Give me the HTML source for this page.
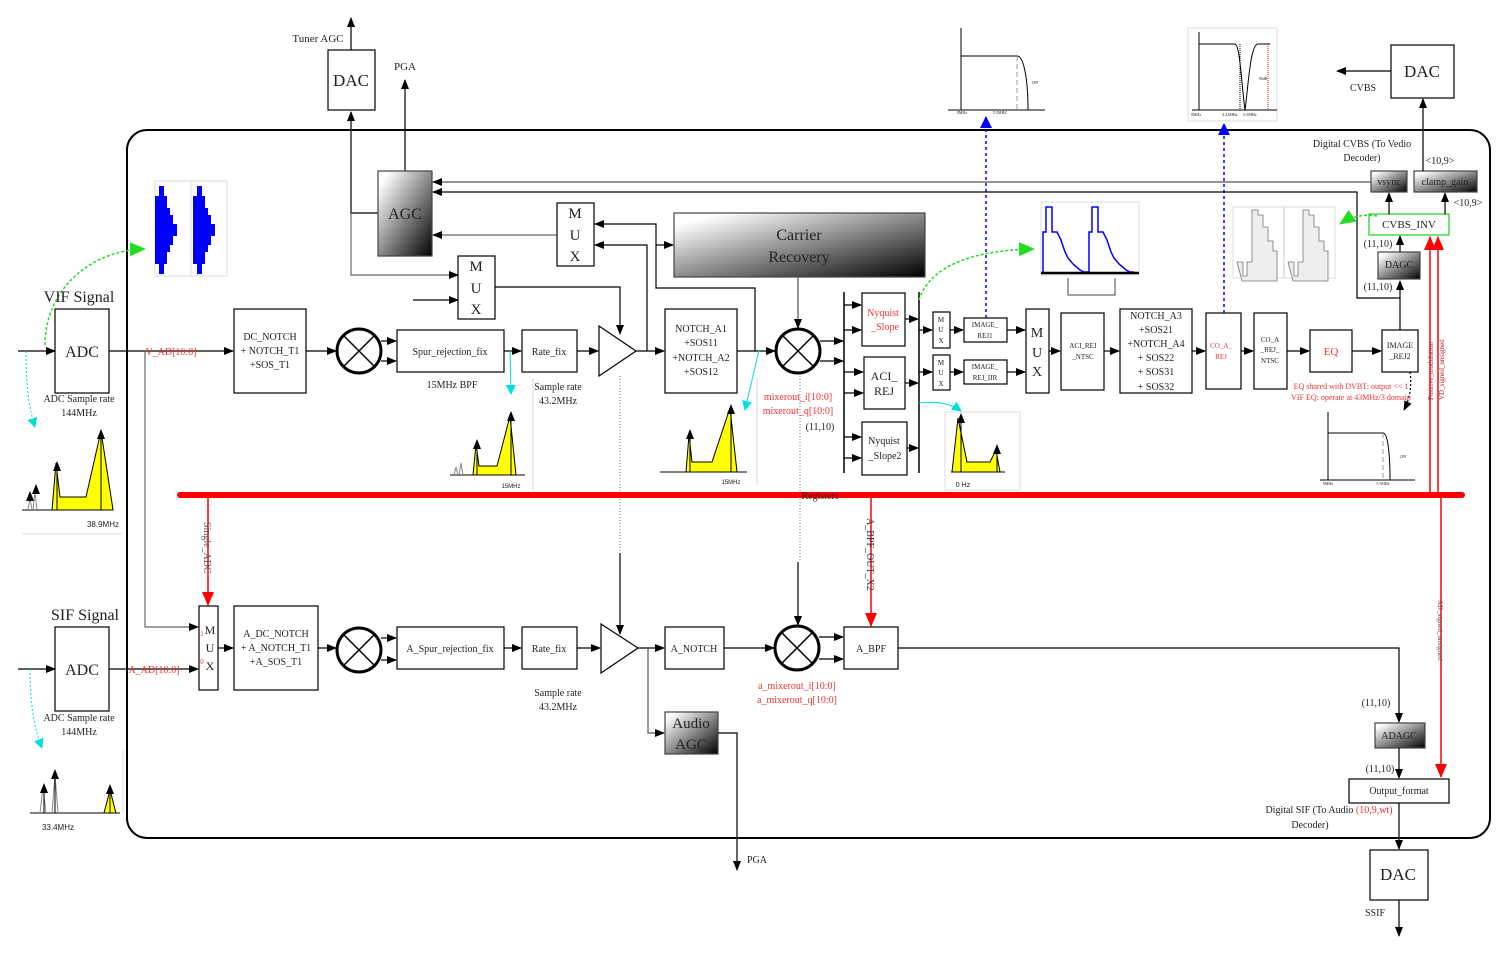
<!DOCTYPE html>
<html><head><meta charset="utf-8"><style>
html,body{margin:0;padding:0;background:#fff;}
svg{display:block;font-family:"Liberation Serif",serif;}
</style></head><body>
<svg width="1502" height="954" viewBox="0 0 1502 954" xmlns="http://www.w3.org/2000/svg">
<defs>
<marker id="a" markerWidth="10" markerHeight="8" refX="9" refY="4" orient="auto" markerUnits="userSpaceOnUse"><path d="M0,0 L10,4 L0,8 z" fill="#000"/></marker>
<marker id="ar" markerWidth="14" markerHeight="12" refX="13" refY="6" orient="auto" markerUnits="userSpaceOnUse"><path d="M0,0 L14,6 L0,12 z" fill="#f00"/></marker>
<marker id="ab" markerWidth="12" markerHeight="12" refX="11" refY="6" orient="auto" markerUnits="userSpaceOnUse"><path d="M0,0 L12,6 L0,12 z" fill="#00f"/></marker>
<marker id="ag" markerWidth="16" markerHeight="14" refX="15" refY="7" orient="auto" markerUnits="userSpaceOnUse"><path d="M0,0 L16,7 L0,14 z" fill="#2d2"/></marker>
<marker id="ac" markerWidth="10" markerHeight="10" refX="9" refY="5" orient="auto" markerUnits="userSpaceOnUse"><path d="M0,0 L10,5 L0,10 z" fill="#0dd"/></marker>
<linearGradient id="g" x1="0" y1="0" x2="1" y2="1"><stop offset="0.1" stop-color="#fff"/><stop offset="1" stop-color="#000"/></linearGradient>
</defs>
<g fill="none" stroke="#000" stroke-width="1.2">
<rect x="127" y="130" width="1363" height="708" rx="20" stroke-width="2"/>
<rect x="328" y="50" width="47" height="60"/>
<line x1="351" y1="50" x2="351" y2="18" marker-end="url(#a)"/>
<line x1="351" y1="213" x2="351" y2="112" marker-end="url(#a)"/>
<line x1="405" y1="171" x2="405" y2="80" marker-end="url(#a)"/>
<line x1="351" y1="213" x2="378" y2="213"/>
<polyline points="351,213 351,275 458,275" stroke="#666" marker-end="url(#a)"/>
<line x1="413" y1="300" x2="458" y2="300" marker-end="url(#a)"/>
<rect x="378" y="171" width="54" height="85" fill="url(#g)" stroke="#444"/>
<line x1="1371" y1="182" x2="433" y2="182" stroke="#555" marker-end="url(#a)"/>
<polyline points="1400,330 1400,298 1357,298 1357,192 433,192" marker-end="url(#a)"/>
<line x1="557" y1="235" x2="433" y2="235" stroke="#666" marker-end="url(#a)"/>
<rect x="557" y="203" width="37" height="63"/>
<rect x="458" y="256" width="37" height="63"/>
<polyline points="495,287 620,287 620,334" marker-end="url(#a)"/>
<polyline points="755,351 755,288 656,288 656,224 595,224" marker-end="url(#a)"/>
<polyline points="647,351 647,245 595,245" marker-end="url(#a)"/>
<line x1="656" y1="245" x2="673" y2="245" marker-end="url(#a)"/>
<rect x="674" y="213" width="251" height="64" fill="url(#g)" stroke="#444"/>
<line x1="798" y1="277" x2="798" y2="328" stroke="#555" marker-end="url(#a)"/>
<line x1="18" y1="351" x2="55" y2="351" marker-end="url(#a)"/>
<rect x="55" y="309" width="54" height="84"/>
<line x1="109" y1="351" x2="233" y2="351" marker-end="url(#a)"/>
<polyline points="145,351 145,627 198,627" stroke="#666" marker-end="url(#a)"/>
<rect x="234" y="309" width="72" height="84"/>
<line x1="306" y1="351" x2="336" y2="351" marker-end="url(#a)"/>
<circle cx="359" cy="351" r="22" stroke-width="3"/>
<path d="M344,336 L374,366 M374,336 L344,366" stroke-width="1.5"/>
<line x1="381" y1="341" x2="396" y2="341" marker-end="url(#a)"/>
<line x1="381" y1="361" x2="396" y2="361" marker-end="url(#a)"/>
<rect x="397" y="330" width="107" height="42"/>
<line x1="504" y1="351" x2="521" y2="351" marker-end="url(#a)"/>
<rect x="522" y="330" width="55" height="42"/>
<line x1="577" y1="351" x2="598" y2="351" marker-end="url(#a)"/>
<polygon points="599,326 636,351 599,376"/>
<line x1="636" y1="351" x2="664" y2="351" marker-end="url(#a)"/>
<rect x="665" y="309" width="72" height="84"/>
<line x1="737" y1="351" x2="775" y2="351" marker-end="url(#a)"/>
<circle cx="798" cy="351" r="22" stroke-width="3"/>
<path d="M783,336 L813,366 M813,336 L783,366" stroke-width="1.5"/>
<line x1="820" y1="341" x2="843" y2="341" marker-end="url(#a)"/>
<line x1="820" y1="361" x2="843" y2="361" marker-end="url(#a)"/>
<line x1="844" y1="292" x2="844" y2="473" stroke-width="1.5"/>
<line x1="919" y1="292" x2="919" y2="473" stroke-width="1.5"/>
<rect x="862" y="293" width="43" height="53"/>
<rect x="864" y="357" width="41" height="52"/>
<rect x="862" y="422" width="45" height="53"/>
<line x1="844" y1="305" x2="861" y2="305" marker-end="url(#a)"/>
<line x1="844" y1="330" x2="861" y2="330" marker-end="url(#a)"/>
<line x1="844" y1="372" x2="863" y2="372" marker-end="url(#a)"/>
<line x1="844" y1="393" x2="863" y2="393" marker-end="url(#a)"/>
<line x1="844" y1="437" x2="861" y2="437" marker-end="url(#a)"/>
<line x1="844" y1="458" x2="861" y2="458" marker-end="url(#a)"/>
<line x1="905" y1="319" x2="918" y2="319" marker-end="url(#a)"/>
<line x1="905" y1="383" x2="918" y2="383" marker-end="url(#a)"/>
<line x1="907" y1="448" x2="918" y2="448" marker-end="url(#a)"/>
<line x1="919" y1="330" x2="932" y2="330" marker-end="url(#a)"/>
<line x1="919" y1="372" x2="932" y2="372" marker-end="url(#a)"/>
<rect x="933" y="312" width="17" height="36"/>
<rect x="933" y="355" width="17" height="35"/>
<line x1="950" y1="330" x2="963" y2="330" marker-end="url(#a)"/>
<line x1="950" y1="372" x2="963" y2="372" marker-end="url(#a)"/>
<rect x="964" y="318" width="43" height="24"/>
<rect x="964" y="360" width="43" height="24"/>
<line x1="1007" y1="330" x2="1025" y2="330" marker-end="url(#a)"/>
<line x1="1007" y1="372" x2="1025" y2="372" marker-end="url(#a)"/>
<rect x="1026" y="309" width="23" height="84"/>
<line x1="1049" y1="351" x2="1060" y2="351" marker-end="url(#a)"/>
<rect x="1061" y="313" width="43" height="77"/>
<line x1="1104" y1="351" x2="1119" y2="351" marker-end="url(#a)"/>
<rect x="1120" y="309" width="72" height="84"/>
<line x1="1192" y1="351" x2="1205" y2="351" marker-end="url(#a)"/>
<rect x="1206" y="313" width="35" height="76"/>
<line x1="1241" y1="351" x2="1253" y2="351" marker-end="url(#a)"/>
<rect x="1254" y="313" width="33" height="76"/>
<line x1="1287" y1="351" x2="1309" y2="351" marker-end="url(#a)"/>
<rect x="1310" y="330" width="42" height="42"/>
<line x1="1352" y1="351" x2="1381" y2="351" marker-end="url(#a)"/>
<rect x="1382" y="330" width="36" height="42"/>
<line x1="1400" y1="298" x2="1400" y2="281" marker-end="url(#a)"/>
<rect x="1378" y="252" width="42" height="27" fill="url(#g)" stroke="#444"/>
<line x1="1400" y1="252" x2="1400" y2="236" marker-end="url(#a)"/>
<rect x="1369" y="214" width="80" height="21" stroke="#2c2"/>
<line x1="1389" y1="214" x2="1389" y2="193" marker-end="url(#a)"/>
<line x1="1445" y1="214" x2="1445" y2="193" marker-end="url(#a)"/>
<rect x="1371" y="171" width="36" height="21" fill="url(#g)" stroke="#444"/>
<rect x="1414" y="171" width="63" height="21" fill="url(#g)" stroke="#444"/>
<line x1="1423" y1="171" x2="1423" y2="99" marker-end="url(#a)"/>
<rect x="1391" y="45" width="63" height="53"/>
<line x1="1391" y1="71" x2="1337" y2="71" marker-end="url(#a)"/>
<path d="M1410,372 C1412,385 1410,398 1404,410" stroke-dasharray="2,2" marker-end="url(#a)"/>
<line x1="18" y1="669" x2="55" y2="669" marker-end="url(#a)"/>
<rect x="55" y="627" width="54" height="84"/>
<line x1="109" y1="669" x2="198" y2="669" marker-end="url(#a)"/>
<rect x="199" y="606" width="19" height="84"/>
<line x1="218" y1="648" x2="233" y2="648" marker-end="url(#a)"/>
<rect x="234" y="606" width="84" height="84"/>
<line x1="318" y1="648" x2="336" y2="648" marker-end="url(#a)"/>
<circle cx="359" cy="650" r="22" stroke-width="3"/>
<path d="M344,635 L374,665 M374,635 L344,665" stroke-width="1.5"/>
<line x1="381" y1="638" x2="396" y2="638" marker-end="url(#a)"/>
<line x1="381" y1="660" x2="396" y2="660" marker-end="url(#a)"/>
<rect x="397" y="627" width="107" height="42"/>
<line x1="504" y1="648" x2="521" y2="648" marker-end="url(#a)"/>
<rect x="522" y="627" width="55" height="42"/>
<line x1="577" y1="648" x2="600" y2="648" marker-end="url(#a)"/>
<polygon points="601,624 638,648 601,673"/>
<line x1="620" y1="376" x2="620" y2="553" stroke="#888" stroke-dasharray="1,2"/>
<line x1="620" y1="553" x2="620" y2="634" marker-end="url(#a)"/>
<line x1="638" y1="648" x2="664" y2="648" marker-end="url(#a)"/>
<polyline points="648,648 648,733 664,733" stroke="#555" marker-end="url(#a)"/>
<rect x="665" y="627" width="59" height="42"/>
<line x1="724" y1="648" x2="774" y2="648" marker-end="url(#a)"/>
<line x1="800" y1="376" x2="800" y2="562" stroke="#888" stroke-dasharray="1,2"/>
<line x1="798" y1="562" x2="798" y2="625" marker-end="url(#a)"/>
<circle cx="797" cy="648" r="22" stroke-width="3"/>
<path d="M782,633 L812,663 M812,633 L782,663" stroke-width="1.5"/>
<line x1="819" y1="637" x2="843" y2="637" marker-end="url(#a)"/>
<line x1="819" y1="659" x2="843" y2="659" marker-end="url(#a)"/>
<rect x="844" y="627" width="54" height="42"/>
<polyline points="898,648 1399,648 1399,722" marker-end="url(#a)"/>
<rect x="665" y="712" width="53" height="42" fill="url(#g)" stroke="#444"/>
<polyline points="718,733 737,733 737,870" marker-end="url(#a)"/>
<rect x="1375" y="723" width="50" height="25" fill="url(#g)" stroke="#444"/>
<line x1="1399" y1="748" x2="1399" y2="778" marker-end="url(#a)"/>
<rect x="1349" y="779" width="100" height="24"/>
<line x1="1399" y1="803" x2="1399" y2="849" marker-end="url(#a)"/>
<rect x="1370" y="850" width="58" height="50"/>
<line x1="1399" y1="900" x2="1399" y2="936" marker-end="url(#a)"/>
<line x1="533" y1="378" x2="533" y2="490" stroke="#ddd"/>
<line x1="757" y1="378" x2="757" y2="485" stroke="#ddd"/>
</g>
<g stroke="#f00" fill="none">
<line x1="180" y1="495" x2="1462" y2="495" stroke-width="6" stroke-linecap="round"/>
<line x1="208" y1="495" x2="208" y2="605" stroke-width="1.5" marker-end="url(#ar)"/>
<line x1="871" y1="495" x2="871" y2="626" stroke-width="1.5" marker-end="url(#ar)"/>
<line x1="1430" y1="495" x2="1430" y2="237" stroke-width="1.5" marker-end="url(#ar)"/>
<line x1="1438" y1="495" x2="1438" y2="237" stroke-width="1.5" marker-end="url(#ar)"/>
<line x1="1441" y1="495" x2="1441" y2="777" stroke-width="1.5" marker-end="url(#ar)"/>
</g>
<g fill="none">
<line x1="986" y1="318" x2="986" y2="117" stroke="#00f" stroke-width="1.5" stroke-dasharray="3,3" marker-end="url(#ab)"/>
<line x1="1224" y1="313" x2="1224" y2="124" stroke="#00f" stroke-width="1.5" stroke-dasharray="3,3" marker-end="url(#ab)"/>
<path d="M45,345 C45,290 90,250 145,249" stroke="#2d2" stroke-width="1.5" stroke-dasharray="3,2" marker-end="url(#ag)"/>
<path d="M919,300 C930,265 975,250 1034,249" stroke="#2d2" stroke-width="1.5" stroke-dasharray="3,2" marker-end="url(#ag)"/>
<path d="M1377,216 C1365,214 1352,216 1340,224" stroke="#2d2" stroke-width="1.5" stroke-dasharray="3,2" marker-end="url(#ag)"/>
<path d="M26,351 C26,380 28,405 35,427" stroke="#0dd" stroke-dasharray="2,2" marker-end="url(#ac)"/>
<path d="M30,669 C30,700 33,725 42,748" stroke="#0dd" stroke-dasharray="2,2" marker-end="url(#ac)"/>
<line x1="510" y1="351" x2="511" y2="394" stroke="#0dd" marker-end="url(#ac)"/>
<line x1="759" y1="350" x2="745" y2="410" stroke="#0dd" marker-end="url(#ac)"/>
<path d="M919,403 C935,401 950,403 961,411" stroke="#0dd" marker-end="url(#ac)"/>
</g>
<rect x="155" y="181" width="72" height="95" fill="none" stroke="#ddd"/>
<line x1="191" y1="181" x2="191" y2="276" stroke="#ddd"/>
<path d="M159,186 h5 v10 h3 v12 h3 v7 h3 v9 h4 v12 h-4 v9 h-3 v7 h-3 v12 h-3 v10 h-5 v-10 h-4 v-68 h4z" fill="#00f"/>
<path d="M197,186 h5 v10 h3 v12 h3 v7 h3 v9 h4 v12 h-4 v9 h-3 v7 h-3 v12 h-3 v10 h-5 v-10 h-4 v-68 h4z" fill="#00f"/>
<rect x="1041" y="202" width="98" height="73" fill="none" stroke="#ddd"/>
<path d="M1043,272 v-40 h3 v-25 h6 v25 h5 l4,8 l4,12 l3,6 l5,6 l7,6 l4,2 h5 v-40 h3 v-25 h6 v25 h5 l4,8 l4,12 l3,6 l5,6 l7,6 l4,2 h4" fill="none" stroke="#00f" stroke-width="1.5"/>
<line x1="1041" y1="273" x2="1139" y2="273" stroke="#000" stroke-width="2.5"/>
<polyline points="1068,278 1068,295 1115,295 1115,278" fill="none" stroke="#444"/>
<rect x="1233" y="207" width="102" height="71" fill="none" stroke="#ddd"/>
<line x1="1284" y1="207" x2="1284" y2="278" stroke="#ccc"/>
<g fill="#eee" stroke="#777" stroke-width="0.8">
<path d="M1237,262 h6 v14 h4 v-14 h5 v-52 h6 v5 h5 v12 h5 v14 h5 v10 h4 v30 h-35z"/>
<path d="M1288,262 h6 v14 h4 v-14 h5 v-52 h6 v5 h5 v12 h5 v14 h5 v10 h4 v30 h-35z"/>
</g>
<g fill="none" stroke="#000">
<polyline points="961,28 961,110"/>
<line x1="948" y1="110" x2="1045" y2="110"/>
<path d="M961,56 H1017 C1024,56 1028,80 1028,110"/>
<line x1="1017" y1="56" x2="1017" y2="110" stroke="#999" stroke-dasharray="5,3"/>
<rect x="1188" y="28" width="89" height="93" stroke="#ddd"/>
<polyline points="1199,32 1199,110"/>
<line x1="1192" y1="110" x2="1277" y2="110"/>
<path d="M1199,44 H1235 C1240,44 1242,90 1245,110 C1248,90 1250,44 1258,44 H1270"/>
<line x1="1240" y1="44" x2="1240" y2="110" stroke-dasharray="1,1"/>
<line x1="1268" y1="44" x2="1268" y2="110" stroke="#f00" stroke-dasharray="1,1"/>
<polyline points="1328,412 1328,480"/>
<line x1="1320" y1="480" x2="1415" y2="480"/>
<path d="M1328,433 H1383 C1388,433 1390,455 1390,480"/>
<line x1="1383" y1="433" x2="1383" y2="480" stroke="#999" stroke-dasharray="5,3"/>
</g>
<g stroke="#000" stroke-width="1">
<line x1="22" y1="510" x2="98" y2="510"/>
<path d="M28,510 l2,-12 l2,12 M33,510 l2,-18 l2,18" fill="none" stroke="#888"/>
<polygon points="52,510 56,463 60,497 86,497 101,431 113,510" fill="#ff0"/>
<line x1="57" y1="510" x2="57" y2="462" marker-end="url(#a)"/><line x1="101" y1="510" x2="101" y2="430" marker-end="url(#a)"/>
<line x1="30" y1="500" x2="30" y2="492" marker-end="url(#a)"/><line x1="36" y1="494" x2="36" y2="485" marker-end="url(#a)"/>
<line x1="22" y1="534" x2="122" y2="534" stroke="#ddd"/>
<line x1="450" y1="475" x2="525" y2="475"/>
<path d="M454,475 l2,-8 l2,8 M459,475 l2,-12 l2,12" fill="none" stroke="#888"/>
<polygon points="473,475 476,444 479,466 497,466 510,416 516,475" fill="#ff0"/>
<line x1="477" y1="475" x2="477" y2="440" marker-end="url(#a)"/><line x1="511" y1="475" x2="511" y2="412" marker-end="url(#a)"/>
<line x1="660" y1="472" x2="747" y2="472"/>
<polygon points="686,472 689,435 692,462 712,462 730,408 737,472" fill="#ff0"/>
<line x1="690" y1="472" x2="690" y2="430" marker-end="url(#a)"/><line x1="731" y1="472" x2="731" y2="405" marker-end="url(#a)"/>
<rect x="945" y="412" width="75" height="78" fill="none" stroke="#ddd"/>
<line x1="951" y1="472" x2="1005" y2="472"/>
<polygon points="952,472 958,418 967,462 990,462 996,450 1000,472" fill="#ff0"/>
<line x1="961" y1="472" x2="961" y2="414" marker-end="url(#a)"/><line x1="997" y1="472" x2="997" y2="445" marker-end="url(#a)"/>
<line x1="30" y1="813" x2="120" y2="813"/>
<line x1="123" y1="750" x2="123" y2="813" stroke="#ddd"/>
<path d="M40,813 l3,-26 l3,26 M52,813 l3,-38 l3,38" fill="none" stroke="#888"/>
<polygon points="104,813 110,790 116,813" fill="#ff0"/>
<line x1="44" y1="813" x2="44" y2="784" marker-end="url(#a)"/><line x1="55" y1="813" x2="55" y2="770" marker-end="url(#a)"/><line x1="110" y1="813" x2="110" y2="785" marker-end="url(#a)"/>
</g>
<g font-size="11" fill="#222" text-anchor="middle">
<text x="318" y="42">Tuner AGC</text>
<text x="405" y="70">PGA</text>
<text x="351" y="86" font-size="17">DAC</text>
<text x="405" y="219" font-size="16">AGC</text>
<text x="575" y="218" font-size="15">M</text><text x="575" y="240" font-size="15">U</text><text x="575" y="261" font-size="15">X</text>
<text x="476" y="271" font-size="15">M</text><text x="476" y="293" font-size="15">U</text><text x="476" y="314" font-size="15">X</text>
<text x="799" y="240" font-size="16">Carrier</text><text x="799" y="262" font-size="16">Recovery</text>
<text x="79" y="302" font-size="16">VIF Signal</text>
<text x="82" y="357" font-size="16">ADC</text>
<text x="79" y="402" font-size="10">ADC Sample rate</text><text x="79" y="416" font-size="10">144MHz</text>
<text x="171" y="355" font-size="10" fill="#e33">V_AD[10:0]</text>
<text x="270" y="340" font-size="10">DC_NOTCH</text><text x="270" y="354" font-size="10">+ NOTCH_T1</text><text x="270" y="368" font-size="10">+SOS_T1</text>
<text x="450" y="355" font-size="10">Spur_rejection_fix</text>
<text x="452" y="388" font-size="10">15MHz BPF</text>
<text x="549" y="355" font-size="10">Rate_fix</text>
<text x="558" y="390" font-size="10">Sample rate</text><text x="558" y="404" font-size="10">43.2MHz</text>
<text x="701" y="332" font-size="10">NOTCH_A1</text><text x="701" y="346" font-size="10">+SOS11</text><text x="701" y="361" font-size="10">+NOTCH_A2</text><text x="701" y="375" font-size="10">+SOS12</text>
<text x="798" y="400" font-size="10" fill="#e33">mixerout_i[10:0]</text><text x="798" y="414" font-size="10" fill="#e33">mixerout_q[10:0]</text><text x="820" y="430" font-size="10">(11,10)</text>
<text x="883" y="316" font-size="10" fill="#e33">Nyquist</text><text x="885" y="330" font-size="10" fill="#e33">_Slope</text>
<text x="884" y="380" font-size="12">ACI_</text><text x="884" y="395" font-size="12">REJ</text>
<text x="884" y="444" font-size="10">Nyquist</text><text x="885" y="459" font-size="10">_Slope2</text>
<g font-size="7"><text x="941" y="322">M</text><text x="941" y="332">U</text><text x="941" y="343">X</text>
<text x="941" y="365">M</text><text x="941" y="375">U</text><text x="941" y="386">X</text>
<text x="985" y="327">IMAGE_</text><text x="985" y="338">REJ1</text>
<text x="985" y="369">IMAGE_</text><text x="985" y="380">REJ_IIR</text>
<text x="1083" y="348">ACI_REJ</text><text x="1083" y="359">_NTSC</text>
<text x="1221" y="348" fill="#e33">CO_A_</text><text x="1221" y="359" fill="#e33">REJ</text>
<text x="1270" y="342">CO_A</text><text x="1270" y="352">_REJ_</text><text x="1270" y="363">NTSC</text>
<text x="1000" y="114" font-size="4">5.5MHZ</text><text x="962" y="114" font-size="4">0MHz</text><text x="1035" y="84" font-size="4">LPF</text>
<text x="1196" y="116" font-size="4">0MHz</text><text x="1230" y="116" font-size="4">4.43MHz</text><text x="1250" y="116" font-size="4">6.5MHz</text><text x="1263" y="80" font-size="4">50dB</text>
<text x="1328" y="485" font-size="4">0MHz</text><text x="1383" y="485" font-size="4">5.5MHz</text><text x="1403" y="458" font-size="4">LPF</text>
</g>
<text x="1037" y="337" font-size="14">M</text><text x="1037" y="357" font-size="14">U</text><text x="1037" y="376" font-size="14">X</text>
<text x="1156" y="319" font-size="10">NOTCH_A3</text><text x="1156" y="333" font-size="10">+SOS21</text><text x="1156" y="347" font-size="10">+NOTCH_A4</text><text x="1156" y="361" font-size="10">+ SOS22</text><text x="1156" y="375" font-size="10">+ SOS31</text><text x="1156" y="390" font-size="10">+ SOS32</text>
<text x="1331" y="355" font-size="11" fill="#e33">EQ</text>
<text x="1400" y="348" font-size="8">IMAGE</text><text x="1400" y="359" font-size="8">_REJ2</text>
<text x="1351" y="389" font-size="8" fill="#e33">EQ shared with DVBT: output &lt;&lt; 1</text>
<text x="1351" y="400" font-size="8" fill="#e33">VIF EQ: operate at 43MHz/3 domain</text>
<text x="1399" y="268" font-size="10">DAGC</text>
<text x="1409" y="228" font-size="11">CVBS_INV</text>
<text x="1389" y="185" font-size="10">vsync</text>
<text x="1445" y="185" font-size="10">clamp_gain</text>
<text x="1378" y="247" font-size="10">(11,10)</text><text x="1378" y="290" font-size="10">(11,10)</text>
<text x="1440" y="164" font-size="10">&lt;10,9&gt;</text><text x="1468" y="206" font-size="10">&lt;10,9&gt;</text>
<text x="1362" y="147" font-size="10">Digital CVBS (To Vedio</text><text x="1362" y="161" font-size="10">Decoder)</text>
<text x="1422" y="77" font-size="17">DAC</text>
<text x="1363" y="91" font-size="10">CVBS</text>
<text x="820" y="499" font-size="10">Registers</text>
<text x="103" y="527" font-size="8" font-family="Liberation Sans">38.9MHz</text>
<text x="511" y="488" font-size="6" font-family="Liberation Sans">15MHz</text>
<text x="731" y="484" font-size="6" font-family="Liberation Sans">15MHz</text>
<text x="963" y="487" font-size="7" font-family="Liberation Sans">0 Hz</text>
<text x="58" y="830" font-size="8" font-family="Liberation Sans">33.4MHz</text>
<text x="85" y="620" font-size="16">SIF Signal</text>
<text x="82" y="675" font-size="16">ADC</text>
<text x="79" y="721" font-size="10">ADC Sample rate</text><text x="79" y="735" font-size="10">144MHz</text>
<text x="154" y="673" font-size="10" fill="#e33">A_AD[10:0]</text>
<text x="210" y="634" font-size="12">M</text><text x="210" y="652" font-size="12">U</text><text x="210" y="670" font-size="12">X</text>
<text x="202" y="636" font-size="7" fill="#e33">1</text><text x="202" y="664" font-size="7" fill="#e33">0</text>
<text x="276" y="637" font-size="10">A_DC_NOTCH</text><text x="276" y="651" font-size="10">+ A_NOTCH_T1</text><text x="276" y="665" font-size="10">+A_SOS_T1</text>
<text x="450" y="652" font-size="10">A_Spur_rejection_fix</text>
<text x="549" y="652" font-size="10">Rate_fix</text>
<text x="558" y="696" font-size="10">Sample rate</text><text x="558" y="710" font-size="10">43.2MHz</text>
<text x="694" y="652" font-size="10">A_NOTCH</text>
<text x="797" y="689" font-size="10" fill="#e33">a_mixerout_i[10:0]</text><text x="797" y="703" font-size="10" fill="#e33">a_mixerout_q[10:0]</text>
<text x="871" y="652" font-size="10">A_BPF</text>
<text x="691" y="728" font-size="15">Audio</text><text x="691" y="749" font-size="15">AGC</text>
<text x="757" y="863" font-size="10">PGA</text>
<text x="1376" y="706" font-size="10">(11,10)</text>
<text x="1399" y="739" font-size="10">ADAGC</text>
<text x="1380" y="772" font-size="10">(11,10)</text>
<text x="1399" y="794" font-size="10">Output_format</text>
<text x="1329" y="813" font-size="10">Digital SIF (To Audio <tspan fill="#e33">(10,9,wt)</tspan></text><text x="1310" y="828" font-size="10">Decoder)</text>
<text x="1398" y="880" font-size="17">DAC</text>
<text x="1375" y="916" font-size="10">SSIF</text>
</g>
<g font-size="10" fill="#555">
<text transform="translate(204,522) rotate(90)">Single_ADC</text>
<text transform="translate(867,518) rotate(90)" fill="#333">A_BPF_OUT_X2</text>
<text transform="translate(1438,600) rotate(90)" font-size="7">AD_signed_unsigned</text>
<text transform="translate(1433,400) rotate(-90)" font-size="7" fill="#a22">Positive_modulation</text>
<text transform="translate(1444,400) rotate(-90)" font-size="7" fill="#a22">VD_signed_unsigned</text>
</g>
</svg>
</body></html>
